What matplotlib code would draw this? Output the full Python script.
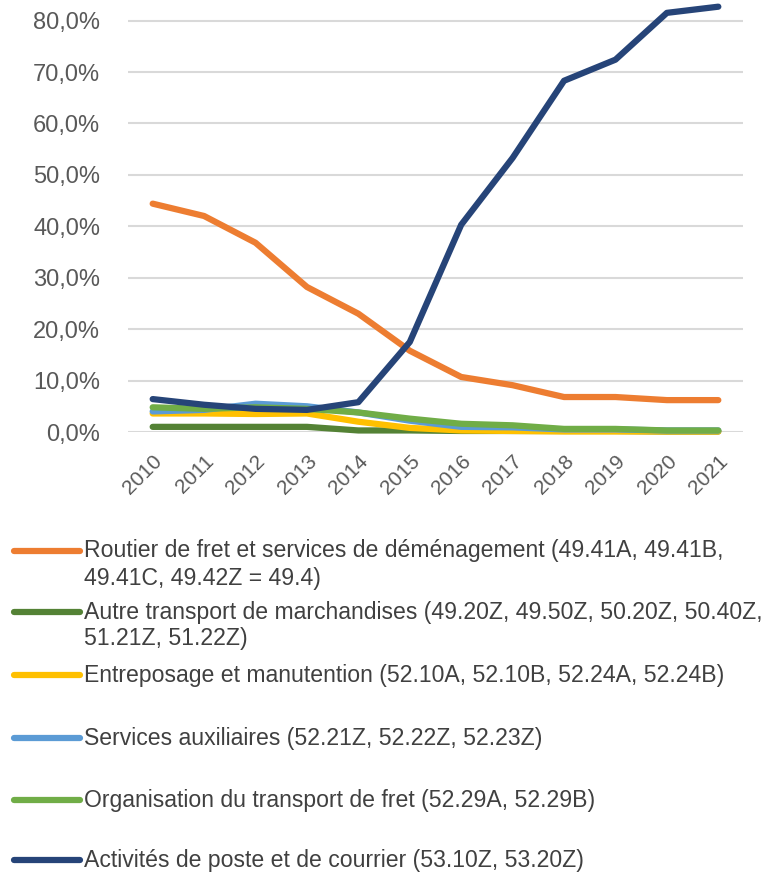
import numpy as np
import matplotlib.pyplot as plt
from matplotlib.lines import Line2D
from matplotlib.ticker import FuncFormatter

years = [str(y) for y in range(2010, 2022)]

routier = [44.4, 42.0, 36.8, 28.2, 23.0, 15.8, 10.7, 9.1, 6.8, 6.8, 6.2, 6.2]
autre = [1.0, 1.0, 1.0, 1.0, 0.3, 0.3, 0.2, 0.2, 0.2, 0.2, 0.1, 0.1]
entreposage = [3.6, 3.6, 3.5, 3.6, 2.0, 0.8, 0.3, 0.2, 0.1, 0.1, 0.1, 0.1]
auxiliaires = [4.0, 4.3, 5.5, 5.0, 3.8, 2.2, 1.0, 0.9, 0.5, 0.5, 0.3, 0.3]
organisation = [4.8, 4.5, 4.8, 4.5, 3.8, 2.6, 1.6, 1.3, 0.6, 0.6, 0.3, 0.3]
poste = [6.4, 5.3, 4.5, 4.3, 5.8, 17.5, 40.3, 53.3, 68.3, 72.4, 81.5, 82.7]

labels = [
    "Routier de fret et services de déménagement (49.41A, 49.41B,\n49.41C, 49.42Z = 49.4)",
    "Autre transport de marchandises (49.20Z, 49.50Z, 50.20Z, 50.40Z,\n51.21Z, 51.22Z)",
    "Entreposage et manutention (52.10A, 52.10B, 52.24A, 52.24B)",
    "Services auxiliaires (52.21Z, 52.22Z, 52.23Z)",
    "Organisation du transport de fret (52.29A, 52.29B)",
    "Activités de poste et de courrier (53.10Z, 53.20Z)",
]
series = [routier, autre, entreposage, auxiliaires, organisation, poste]
colors = ['#ED7D31', '#548235', '#FFC000', '#5B9BD5', '#70AD47', '#264478']

plt.rcParams['font.family'] = ['Liberation Sans', 'DejaVu Sans']

W, H = 769, 872
fig = plt.figure(figsize=(W / 100, H / 100), dpi=100)
ax = fig.add_axes([128 / W, 1 - 432 / H, (743 - 128) / W, 432 / H])

x = np.arange(len(years))
for vals, c in zip(series, colors):
    ax.plot(x, vals, color=c, lw=4.5, solid_capstyle='round',
            solid_joinstyle='round', clip_on=False)

ax.set_ylim(0, 84)
ax.set_xlim(-0.48, len(years) - 0.52)
ax.set_yticks(np.arange(0, 81, 10))
ax.yaxis.set_major_formatter(FuncFormatter(lambda v, p: f"{v:.1f}%".replace('.', ',')))
ax.set_xticks(x)
ax.set_xticklabels(years, rotation=45, ha='right', rotation_mode='anchor')
ax.tick_params(axis='y', length=0, labelsize=17, labelcolor='#595959', pad=20)
ax.tick_params(axis='x', length=0, labelsize=15, labelcolor='#595959', pad=14)
ax.grid(axis='y', color='#d9d9d9', lw=1.5)
ax.set_axisbelow(True)
for s in ax.spines.values():
    s.set_visible(False)

# legend drawn manually, one text line at a time
ys = [551, 612, 675, 738, 800, 860]
for lab, c, yy in zip(labels, colors, ys):
    yf = 1 - yy / H
    fig.add_artist(Line2D([14 / W, 80 / W], [yf, yf], color=c, lw=4.5,
                          solid_capstyle='round', transform=fig.transFigure))
    for k, line in enumerate(lab.split('\n')):
        fig.text(84 / W, 1 - (yy + 27 * k) / H, line, fontsize=16.6,
                 color='#404040', va='center', ha='left')

fig.savefig('out.png', dpi=100)
